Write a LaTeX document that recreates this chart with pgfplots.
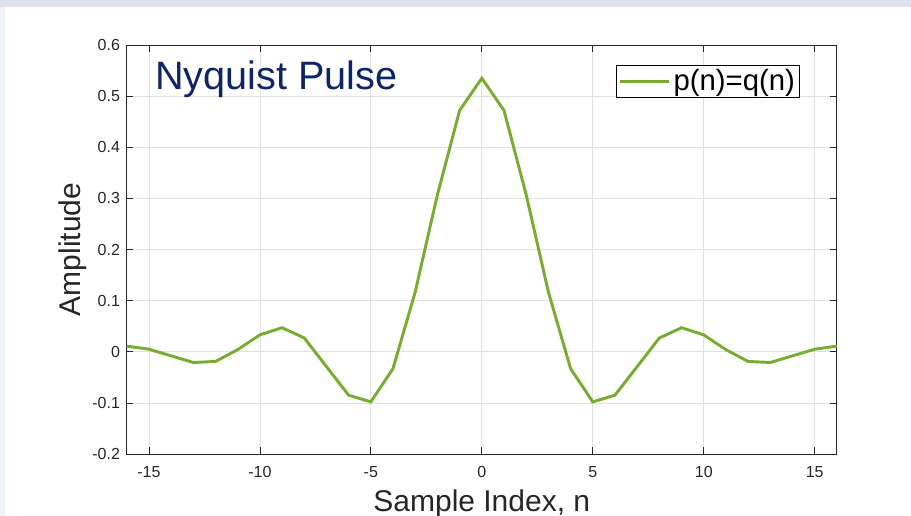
\documentclass[border=0pt]{standalone}
\usepackage{pgfplots}
\pgfplotsset{compat=1.18}
\usepackage{fontspec}
\setmainfont{Liberation Sans}
\definecolor{mgreen}{HTML}{77AC30}
\definecolor{axisgray}{HTML}{262626}
\definecolor{navy}{HTML}{0D2466}
\definecolor{bandtop}{HTML}{DDE3EE}
\definecolor{bandleft}{HTML}{EEF1F7}
\begin{document}
\begin{tikzpicture}
\path[use as bounding box] (0,0) rectangle (683.25pt,387pt);
\fill[bandtop] (0,381.75pt) rectangle (683.25pt,387pt);
\fill[bandleft] (0,0) rectangle (4pt,381.75pt);
\begin{axis}[
  at={(95pt,46.5pt)}, anchor=south west,
  scale only axis, width=532.7pt, height=306.75pt,
  xmin=-16, xmax=16, ymin=-0.2, ymax=0.6,
  xtick={-15,-10,-5,0,5,10,15},
  xticklabels={-15,-10,-5,0,5,10,15},
  ytick={-0.2,-0.1,0,0.1,0.2,0.3,0.4,0.5,0.6},
  yticklabels={-0.2,-0.1,0,0.1,0.2,0.3,0.4,0.5,0.6},
  grid=major,
  major grid style={color=black!12, line width=0.5pt},
  tick align=inside, major tick length=5pt,
  tick style={color=axisgray, line width=0.5pt},
  axis line style={color=axisgray, line width=0.7pt},
  tick label style={font=\fontsize{12}{14}\selectfont, color=axisgray},
  xticklabel style={yshift=-6pt},
  yticklabel style={xshift=-1.5pt},
  xlabel={Sample Index, n},
  ylabel={Amplitude},
  label style={font=\fontsize{22.5}{24}\selectfont, color=axisgray},
  xlabel style={at={(axis description cs:0.5,-0.1394)}, anchor=base},
  ylabel style={at={(axis description cs:-0.0650,0.5)}, anchor=base},
  legend style={at={(0.948,0.952)}, anchor=north east, draw=black, line width=0.5pt,
    font=\fontsize{22}{24}\selectfont, inner sep=1.5pt, text=black},
  legend cell align=left,
  legend image code/.code={\draw[#1] (0pt,0pt) -- (37pt,0pt);},
]
\addplot[color=mgreen, line width=2.2pt] coordinates {
(-16,0.011) (-15,0.005) (-14,-0.008) (-13,-0.021) (-12,-0.019) (-11,0.004)
(-10,0.033) (-9,0.047) (-8,0.027) (-7,-0.029) (-6,-0.085) (-5,-0.098)
(-4,-0.033) (-3,0.117) (-2,0.307) (-1,0.472) (0,0.535) (1,0.472)
(2,0.307) (3,0.117) (4,-0.033) (5,-0.098) (6,-0.085) (7,-0.029)
(8,0.027) (9,0.047) (10,0.033) (11,0.004) (12,-0.019) (13,-0.021)
(14,-0.008) (15,0.005) (16,0.011)
};
\addlegendentry{p(n)=q(n)}
\node[anchor=base west, font=\fontsize{29.7}{31}\selectfont, text=navy, inner sep=0pt] at (rel axis cs:0.04,0.892) {Nyquist Pulse};
\end{axis}
\end{tikzpicture}
\end{document}
